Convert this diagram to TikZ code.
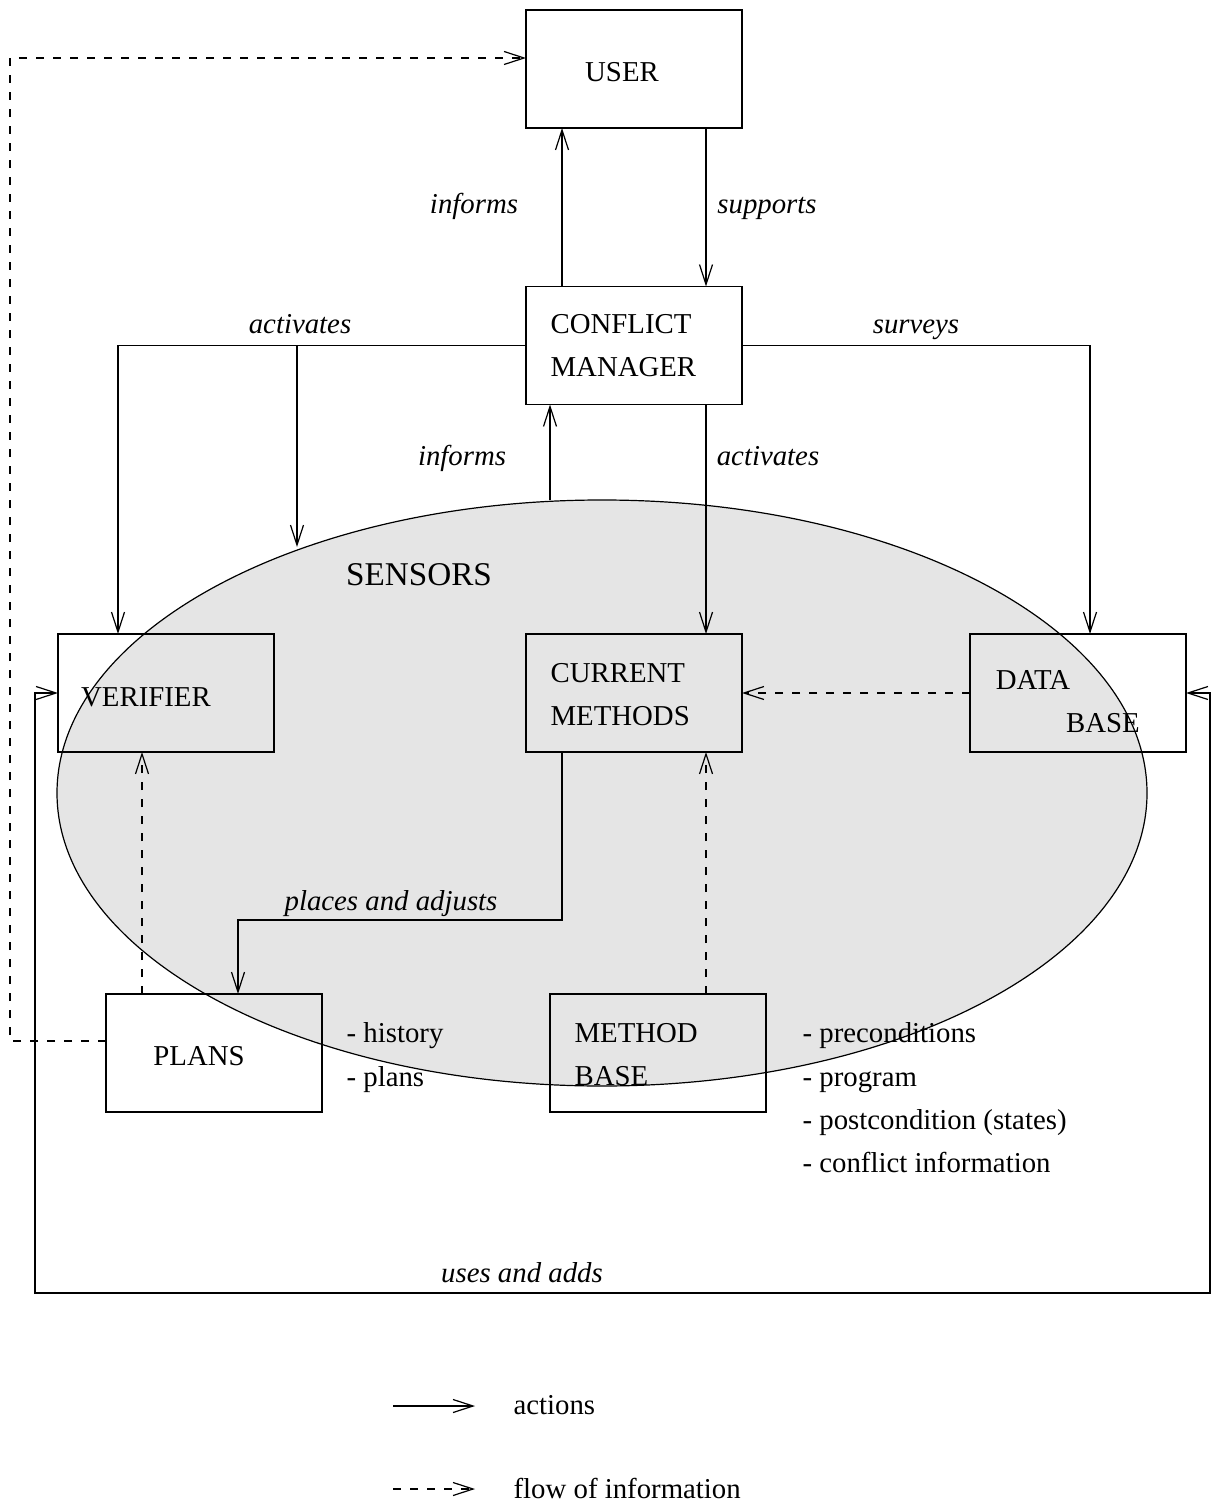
\documentclass[tikz,border=0pt]{standalone}
\usepackage{fontspec}
\setmainfont{Liberation Serif}
\usetikzlibrary{arrows.meta,shapes.geometric}
\begin{document}
\begin{tikzpicture}[x=0.5pt,y=-0.5pt,
  line width=0.6pt,
  tip/.tip={Straight Barb[length=10pt,width=6.5pt,line width=0.6pt]},
  act/.style={draw,-tip},
  info/.style={draw,-tip,dash pattern=on 4pt off 4.5pt},
  box/.style={draw,minimum width=108pt,minimum height=59pt,inner sep=0pt,outer sep=0pt},
  lbl/.style={font=\fontsize{14.4}{17}\selectfont,inner sep=0pt,anchor=base},
  lbll/.style={lbl,anchor=base west},
  ital/.style={lbl,font=\fontsize{14.4}{17}\selectfont\itshape}]
\useasboundingbox (0,0) rectangle (1213,1507);

% the shaded sensor area
\node[ellipse,draw,fill=black!10,minimum width=545pt,minimum height=293pt,inner sep=0pt,outer sep=0pt] (sensors) at (602,793) {};
\node[lbl,font=\fontsize{16.6}{20}\selectfont] (sensorslbl) at (419,585) {SENSORS};

% components
\node[box] (user) at (634,69) {};
\node[box] (cm) at (634,345.5) {};
\node[box] (verifier) at (166,693) {};
\node[box] (cur) at (634,693) {};
\node[box] (db) at (1078,693) {};
\node[box] (plans) at (214,1053) {};
\node[box] (mb) at (658,1053) {};

\node[lbl] (usert) at (622,82) {USER};
\node[lbll] (cmt1) at (550,334) {CONFLICT};
\node[lbll] (cmt2) at (550,377) {MANAGER};
\node[lbl] (vert) at (146,706) {VERIFIER};
\node[lbll] (curt1) at (550,682) {CURRENT};
\node[lbll] (curt2) at (550,725) {METHODS};
\node[lbl] (dbt1) at (1033,689) {DATA};
\node[lbl] (dbt2) at (1103,732) {BASE};
\node[lbl] (planst) at (199,1065) {PLANS};
\node[lbll] (mbt1) at (574,1042) {METHOD};
\node[lbll] (mbt2) at (574,1085) {BASE};

% contents of plans and methods
\node[lbll] (h1) at (346,1042) {- history};
\node[lbll] (h2) at (346,1086) {- plans};
\node[lbll] (m1) at (802,1042) {- preconditions};
\node[lbll] (m2) at (802,1086) {- program};
\node[lbll] (m3) at (802,1129) {- postcondition (states)};
\node[lbll] (m4) at (802,1172) {- conflict information};

% actions
\draw[act] ([xshift=-36pt]cm.north) -- ([xshift=-36pt]user.south);
\node[ital] (l1) at (474,214) {informs};
\draw[act] ([xshift=36pt]user.south) -- ([xshift=36pt]cm.north);
\node[ital] (l2) at (767,214) {supports};

\draw[act] (cm.west) -| ([xshift=-24pt]verifier.north);
\coordinate (branch) at (297,345.5);
\coordinate (branchend) at (297,547);
\draw[act] (branch) -- (branchend);
\node[ital] (l3) at (300,334) {activates};
\draw[act] (cm.east) -| ([xshift=6pt]db.north);
\node[ital] (l4) at (916,334) {surveys};

\draw[act] ([xshift=-26pt]sensors.north) -- ([xshift=-42pt]cm.south);
\node[ital] (l5) at (462,466) {informs};
\draw[act] ([xshift=36pt]cm.south) -- ([xshift=36pt]cur.north);
\node[ital] (l6) at (768,466) {activates};

\draw[act] ([xshift=-36pt]cur.south) -- ++(0,168) -| ([xshift=12pt]plans.north);
\node[ital] (l7) at (391,910) {places and adjusts};

\coordinate (loopl) at (35,1293);
\coordinate (loopr) at (1210,1293);
\draw[act,tip-tip] (verifier.west) -| (loopl) -- (loopr) |- (db.east);
\node[ital] (l8) at (522,1282) {uses and adds};

% flow of information
\draw[info] (db.west) -- (cur.east);
\draw[info] ([xshift=-36pt]plans.north) -- ([xshift=-12pt]verifier.south);
\draw[info] ([xshift=24pt]mb.north) -- ([xshift=36pt]cur.south);
\draw[info] ([yshift=6pt]plans.west) -- ++(-96,0) |- ([yshift=5.5pt]user.west);

% legend
\coordinate (a1) at (393,1406);
\coordinate (a2) at (475,1406);
\draw[act] (a1) -- (a2);
\node[lbll] (at) at (513,1414) {actions};
\coordinate (f1) at (393,1489);
\coordinate (f2) at (475,1489);
\draw[info] (f1) -- (f2);
\node[lbll] (ft) at (513,1498) {flow of information};
\end{tikzpicture}
\end{document}
